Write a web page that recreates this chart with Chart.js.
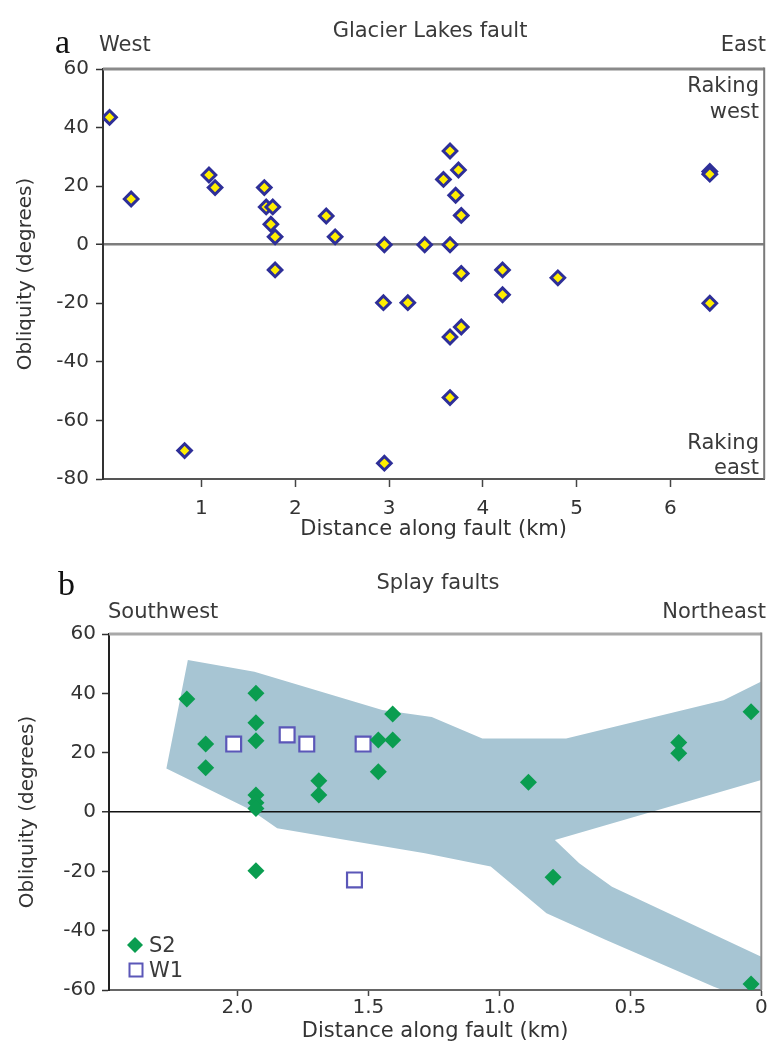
<!DOCTYPE html>
<html>
<head>
<meta charset="utf-8">
<script src="https://cdn.jsdelivr.net/npm/chart.js@4.4.1/dist/chart.umd.min.js"></script>
<style>
  html, body { margin: 0; padding: 0; background: #fff; }
  #page { position: relative; width: 774px; height: 1048px; overflow: hidden;
          font-family: "DejaVu Sans", sans-serif; color: #3a3a3a; }
  #page canvas { position: absolute; left: 0; }
  .t { position: absolute; white-space: nowrap; font-size: 21px; line-height: 21px; }
  .panel { font-family: "Liberation Serif", "DejaVu Serif", serif; color: #111;
           font-size: 34px; line-height: 34px; }
  .legend-sym { position: absolute; }
</style>
</head>
<body>
<div id="page">
  <canvas id="glacierChart" width="774" height="560" style="top:0"></canvas>
  <canvas id="splayChart" width="774" height="488" style="top:560px"></canvas>

  <div class="t panel" style="left:55px;top:25px">a</div>
  <div class="t" style="left:430px;top:20px;transform:translateX(-50%)">Glacier Lakes fault</div>
  <div class="t" style="left:99px;top:34px">West</div>
  <div class="t" style="right:8px;top:34px">East</div>
  <div class="t" style="right:15px;top:75px">Raking</div>
  <div class="t" style="right:15px;top:101px">west</div>
  <div class="t" style="right:15px;top:432px">Raking</div>
  <div class="t" style="right:15px;top:457px">east</div>

  <div class="t panel" style="left:58px;top:567px">b</div>
  <div class="t" style="left:438px;top:572px;transform:translateX(-50%)">Splay faults</div>
  <div class="t" style="left:108px;top:601px">Southwest</div>
  <div class="t" style="right:8px;top:601px">Northeast</div>
  <div id="splayLegend"></div>
</div>

<script>
// ---- Glacier Lakes fault: distance along fault (km) vs obliquity (degrees)
const glacierDistance = [0.02, 0.25, 1.08, 1.145, 1.67, 1.69, 1.76, 1.74, 1.785, 1.785,
  2.33, 2.425, 2.95, 3.38, 2.94, 3.2, 0.82, 2.95, 3.65, 3.74,
  3.58, 3.71, 3.77, 3.65, 6.42, 6.42, 3.77, 4.21, 4.8, 4.21,
  6.42, 3.77, 3.65, 3.65];
const glacierObliquity = [43.5, 15.6, 23.8, 19.5, 19.5, 12.9, 12.9, 7, 2.7, -8.6,
  9.8, 2.7, 0, 0, -19.8, -19.8, -70.3, -74.6, 32, 25.5,
  22.3, 16.9, 10, 0, 25, 24.1, -9.8, -8.6, -11.3, -17.1,
  -20, -28.1, -31.5, -52.2];
const glacierXTicks = [1, 2, 3, 4, 5, 6];
const glacierYTicks = [60, 40, 20, 0, -20, -40, -60, -80];

// ---- Splay faults: distance decreasing towards the northeast
const s2Distance = [2.193, 2.121, 2.121, 1.929, 1.929, 1.929, 1.929, 1.929, 1.929, 1.689,
  1.689, 1.462, 1.407, 1.407, 1.462, 0.889, 0.315, 0.315, 0.039, 1.929,
  0.795, 0.039];
const s2Obliquity = [38.1, 22.9, 14.9, 40, 30.1, 24, 5.7, 3.1, 1.2, 10.5,
  5.7, 24.3, 24.3, 33, 13.6, 10, 23.4, 19.8, 33.8, -19.8,
  -22, -58];
const w1Distance = [2.014, 1.81, 1.735, 1.52, 1.553];
const w1Obliquity = [22.9, 26, 22.9, 22.9, -22.9];

// outline of the shaded obliquity envelope (traced clockwise)
const bandDistance = [2.189, 1.935, 1.447, 1.258, 1.065, 0.745, 0.144, 0, 0, 0.788,
  0.695, 0.57, 0, 0, 0.181, 0.595, 0.82, 1.033, 1.284, 1.585,
  1.848, 1.948, 2.271];
const bandObliquity = [51.2, 47.3, 34.4, 32, 24.8, 24.8, 37.7, 44, 10.8, -9.4,
  -17.3, -25.2, -48.8, -65, -58.9, -43.1, -34.1, -18.4, -13.9, -9.4,
  -5.5, 0.7, 14.7];
const splayXTicks = [2.0, 1.5, 1.0, 0.5, 0];
const splayXLabels = ['2.0', '1.5', '1.0', '0.5', '0'];
const splayYTicks = [60, 40, 20, 0, -20, -40, -60];

const FONT = "'DejaVu Sans', sans-serif";
const TEXT = '#333';
const S2_COLOR = '#0a9d50';
const W1_COLOR = '#5b57b8';
const BAND_COLOR = '#a7c5d3';

Chart.defaults.font.family = FONT;
Chart.defaults.color = TEXT;

const pts = (xs, ys) => xs.map((x, i) => ({ x, y: ys[i] }));

// top and right edges of the plotting box
const frameLines = {
  id: 'frameLines',
  afterDatasetsDraw(chart, args, o) {
    const { ctx, chartArea: a } = chart;
    ctx.save();
    ctx.lineCap = 'butt';
    ctx.strokeStyle = o.topColor; ctx.lineWidth = o.topWidth;
    ctx.beginPath(); ctx.moveTo(a.left, a.top); ctx.lineTo(a.right, a.top); ctx.stroke();
    ctx.strokeStyle = o.rightColor; ctx.lineWidth = o.rightWidth;
    ctx.beginPath(); ctx.moveTo(a.right, a.top - o.topWidth / 2); ctx.lineTo(a.right, a.bottom); ctx.stroke();
    ctx.restore();
  }
};

function axisScales(cfg) {
  return {
    x: {
      type: 'linear', min: cfg.xMin, max: cfg.xMax, reverse: !!cfg.reverse,
      afterBuildTicks: s => { s.ticks = cfg.xTicks.map(v => ({ value: v })); },
      afterFit: s => { s.height = cfg.xHeight; s.paddingLeft = 0; s.paddingRight = 0; },
      grid: { color: 'transparent', drawTicks: true, tickLength: cfg.xTickLen, tickColor: '#444', tickWidth: 1.5 },
      border: { display: true, color: cfg.xAxisColor, width: 2 },
      ticks: {
        font: { size: 20, lineHeight: 1.2 }, color: TEXT, padding: cfg.xTickPad,
        maxRotation: 0, autoSkip: false,
        callback: cfg.xLabels ? ((v, i) => cfg.xLabels[i]) : (v => String(v))
      },
      title: { display: true, text: 'Distance along fault (km)', color: TEXT,
               font: { size: 21, lineHeight: 1.2 }, padding: { top: 0, bottom: cfg.xTitlePad } }
    },
    y: {
      type: 'linear', min: cfg.yMin, max: cfg.yMax,
      afterBuildTicks: s => { s.ticks = cfg.yTicks.map(v => ({ value: v })); },
      afterFit: s => { s.width = cfg.yWidth; s.paddingTop = 0; s.paddingBottom = 0; },
      grid: {
        color: c => (c.tick && c.tick.value === 0) ? cfg.zeroColor : 'transparent',
        lineWidth: c => (c.tick && c.tick.value === 0) ? cfg.zeroWidth : 1,
        drawTicks: true, tickLength: 7, tickColor: '#333', tickWidth: 1.5
      },
      border: { display: true, color: cfg.yAxisColor, width: 2 },
      ticks: { font: { size: 20, lineHeight: 1.2 }, color: TEXT, padding: cfg.yTickPad },
      title: { display: true, text: 'Obliquity (degrees)', color: TEXT,
               font: { size: 20, lineHeight: 1.2 }, padding: { top: cfg.yTitlePad, bottom: 0 } }
    }
  };
}

new Chart(document.getElementById('glacierChart'), {
  type: 'scatter',
  data: {
    datasets: [{
      label: 'Glacier Lakes fault',
      data: pts(glacierDistance, glacierObliquity),
      pointStyle: 'rectRot',
      pointRadius: 6.8,
      pointBorderWidth: 3,
      pointBackgroundColor: '#ffee00',
      pointBorderColor: '#2e2f98'
    }]
  },
  options: {
    responsive: false, animation: false, devicePixelRatio: 1, events: [],
    layout: { padding: { top: 69, right: 6, left: 0, bottom: 0 } },
    plugins: {
      legend: { display: false }, tooltip: { enabled: false },
      frameLines: { topColor: '#8a8a8a', topWidth: 3, rightColor: '#7a7a7a', rightWidth: 2 }
    },
    scales: axisScales({
      xMin: -0.05, xMax: 7, xTicks: glacierXTicks, xHeight: 81, xTickLen: 8, xTickPad: 10,
      xTitlePad: 18, xAxisColor: '#555',
      yMin: -80, yMax: 60, yTicks: glacierYTicks, yWidth: 103, yTickPad: 7, yTitlePad: 14,
      zeroColor: '#7d7d7d', zeroWidth: 2.5, yAxisColor: '#333'
    })
  },
  plugins: [frameLines]
});

new Chart(document.getElementById('splayChart'), {
  type: 'scatter',
  data: {
    datasets: [
      {
        label: 'envelope',
        data: pts(bandDistance, bandObliquity),
        showLine: true, fill: 'shape', tension: 0,
        backgroundColor: BAND_COLOR, borderColor: 'transparent', borderWidth: 0,
        pointRadius: 0, pointHoverRadius: 0
      },
      {
        label: 'S2',
        data: pts(s2Distance, s2Obliquity),
        pointStyle: 'rectRot', pointRadius: 8.5, pointBorderWidth: 0,
        pointBackgroundColor: S2_COLOR, pointBorderColor: S2_COLOR
      },
      {
        label: 'W1',
        data: pts(w1Distance, w1Obliquity),
        pointStyle: 'rect', pointRadius: 10.5, pointBorderWidth: 2.2,
        pointBackgroundColor: '#ffffff', pointBorderColor: W1_COLOR
      }
    ]
  },
  options: {
    responsive: false, animation: false, devicePixelRatio: 1, events: [],
    layout: { padding: { top: 74, right: 2.5, left: 0, bottom: 0 } },
    plugins: {
      legend: { display: false }, tooltip: { enabled: false },
      filler: { drawTime: 'beforeDraw' },
      frameLines: { topColor: '#a8a8a8', topWidth: 3, rightColor: '#8c8c8c', rightWidth: 2 }
    },
    scales: axisScales({
      xMin: 0, xMax: 2.49, reverse: true, xTicks: splayXTicks, xLabels: splayXLabels,
      xHeight: 58, xTickLen: 6, xTickPad: 0, xTitlePad: 3.5, xAxisColor: '#666',
      yMin: -60, yMax: 60, yTicks: splayYTicks, yWidth: 109, yTickPad: 6, yTitlePad: 16,
      zeroColor: '#111', zeroWidth: 1.5, yAxisColor: '#222'
    })
  },
  plugins: [frameLines]
});

// legend for the splay-fault series
const legendItems = [
  { name: 'S2', shape: 'diamond', fill: S2_COLOR, stroke: S2_COLOR, cx: 135, cy: 945 },
  { name: 'W1', shape: 'square', fill: '#ffffff', stroke: W1_COLOR, cx: 136, cy: 970 }
];
const legend = document.getElementById('splayLegend');
legendItems.forEach(it => {
  const ns = 'http://www.w3.org/2000/svg';
  const svg = document.createElementNS(ns, 'svg');
  svg.setAttribute('width', 18); svg.setAttribute('height', 18);
  svg.setAttribute('class', 'legend-sym');
  svg.style.left = (it.cx - 9) + 'px'; svg.style.top = (it.cy - 9) + 'px';
  let el;
  if (it.shape === 'diamond') {
    el = document.createElementNS(ns, 'polygon');
    el.setAttribute('points', '9,1 17,9 9,17 1,9');
    el.setAttribute('fill', it.fill);
  } else {
    el = document.createElementNS(ns, 'rect');
    el.setAttribute('x', 2.5); el.setAttribute('y', 2.5);
    el.setAttribute('width', 13); el.setAttribute('height', 13);
    el.setAttribute('fill', it.fill); el.setAttribute('stroke', it.stroke);
    el.setAttribute('stroke-width', 2);
  }
  svg.appendChild(el);
  legend.appendChild(svg);
  const txt = document.createElement('div');
  txt.className = 't';
  txt.style.left = '149px';
  txt.style.top = (it.cy - 10) + 'px';
  txt.textContent = it.name;
  legend.appendChild(txt);
});
</script>
</body>
</html>
